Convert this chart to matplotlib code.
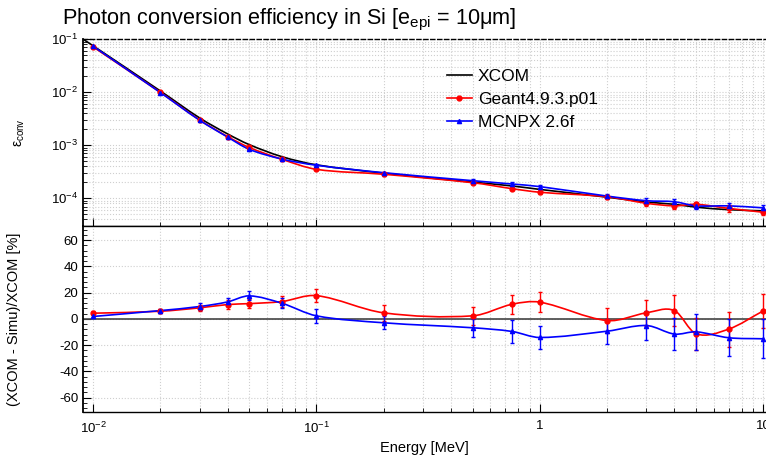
import numpy as np
import matplotlib
matplotlib.use('Agg')
import matplotlib.pyplot as plt
from matplotlib.path import Path
from matplotlib.patches import PathPatch
from matplotlib.lines import Line2D
from matplotlib.ticker import FixedLocator, FixedFormatter, LogLocator, MultipleLocator, NullFormatter

plt.rcParams['font.family'] = ['Liberation Sans', 'DejaVu Sans']
plt.rcParams['mathtext.fontset'] = 'custom'
plt.rcParams['mathtext.rm'] = 'Liberation Sans'
plt.rcParams['mathtext.it'] = 'Liberation Sans:italic'
plt.rcParams['axes.unicode_minus'] = False

# data
energy = [0.01, 0.02, 0.03, 0.04, 0.05, 0.07, 0.1, 0.2, 0.5, 0.75, 1, 2, 3, 4, 5, 7, 10]
xcom_energy = [0.009] + energy
xcom = [0.101, 0.0755, 0.0106, 0.00328, 0.00164, 0.00103, 0.00061, 0.000428, 0.000298,
        0.000202, 0.000171, 0.000147, 0.000105, 8.5e-5, 7.7e-5, 6.8e-5, 6.1e-5, 5.8e-5]
geant = [0.072, 0.0100, 0.0030, 0.00146, 0.00091, 0.000545, 0.000352, 0.000284, 0.000197,
         0.000152, 0.00013, 0.000107, 8.05e-5, 7.2e-5, 7.7e-5, 6.45e-5, 5.45e-5]
mcnp = [0.074, 0.0099, 0.00297, 0.00143, 0.00084, 0.00055, 0.00042, 0.000304, 0.000215,
        0.000186, 0.000166, 0.00011, 9.0e-5, 8.6e-5, 7.2e-5, 7.2e-5, 6.6e-5]
geant_res = [4.3, 5.8, 8.4, 10.9, 11.6, 13.2, 17.7, 4.6, 2.3, 11.1, 12.7, -1.3, 4.6, 6.3, -11.4, -7.8, 6.1]
geant_err = [1.5, 1.5, 2.5, 3.4, 3.5, 4.0, 4.7, 6.0, 7.0, 7.2, 7.8, 9.7, 10.0, 11.5, 12.4, 13.4, 13.0]
mcnp_res = [1.8, 6.3, 9.4, 12.9, 17.5, 11.9, 2.3, -3.0, -6.8, -9.6, -14.2, -9.4, -5.1, -11.6, -9.9, -14.4, -15.2]
mcnp_err = [1.0, 1.5, 2.5, 3.0, 3.5, 4.0, 5.3, 5.0, 7.0, 8.5, 8.7, 9.4, 11.0, 11.9, 13.5, 14.0, 14.8]
xtick_vals = [0.01, 0.1, 1, 10]
xtick_labels = ['$10^{-2}$', '$10^{-1}$', '1', '10']


def smooth_path(x, y, logy=False):
    # cubic bezier through the points (like ROOT's "C" option), built in log-x space
    lx = np.log10(x)
    ly = np.log10(y) if logy else np.asarray(y, float)
    n = len(lx)
    m = np.zeros(n)
    m[0] = (ly[1] - ly[0]) / (lx[1] - lx[0])
    m[-1] = (ly[-1] - ly[-2]) / (lx[-1] - lx[-2])
    for i in range(1, n - 1):
        m[i] = (ly[i + 1] - ly[i - 1]) / (lx[i + 1] - lx[i - 1])
    verts = [(lx[0], ly[0])]
    codes = [Path.MOVETO]
    for i in range(n - 1):
        h = lx[i + 1] - lx[i]
        verts += [(lx[i] + h / 3, ly[i] + m[i] * h / 3),
                  (lx[i + 1] - h / 3, ly[i + 1] - m[i + 1] * h / 3),
                  (lx[i + 1], ly[i + 1])]
        codes += [Path.CURVE4] * 3
    v = np.array(verts)
    v[:, 0] = 10 ** v[:, 0]
    if logy:
        v[:, 1] = 10 ** v[:, 1]
    return Path(v, codes)


def add_curve(ax, x, y, color, logy=False):
    ax.add_patch(PathPatch(smooth_path(x, y, logy), fill=False, edgecolor=color, lw=1.2, zorder=3))


fig = plt.figure(figsize=(7.66, 4.61), dpi=100)
ax1 = fig.add_axes([0.1084, 0.5104, 0.8916, 0.4044])
ax2 = fig.add_axes([0.1084, 0.1063, 0.8916, 0.4041])

grid_kw = dict(color='#cfcfcf', linestyle=':', linewidth=0.8)
for ax in (ax1, ax2):
    ax.set_xscale('log')
    ax.set_xlim(0.00902, 10.28)
    ax.spines['right'].set_visible(False)
    ax.spines['left'].set_linewidth(1.3)
    ax.spines['top'].set_linewidth(1.0)
    ax.spines['bottom'].set_linewidth(1.0)
    ax.xaxis.set_major_locator(FixedLocator(xtick_vals))
    ax.xaxis.set_minor_locator(LogLocator(base=10, subs=np.arange(2, 10)))
    ax.xaxis.set_minor_formatter(NullFormatter())
    ax.tick_params(which='both', direction='in', labelsize=9.5, right=False, top=False)
    ax.tick_params(which='major', length=6)
    ax.tick_params(which='minor', length=3)
    ax.grid(True, which='both', **grid_kw)
    ax.set_axisbelow(True)

# top panel
ax1.set_yscale('log')
ax1.set_ylim(3.04e-5, 0.1)
ax1.spines['top'].set_linestyle((0, (3, 2)))
ax1.yaxis.set_major_locator(FixedLocator([1e-4, 1e-3, 1e-2, 1e-1]))
ax1.yaxis.set_major_formatter(FixedFormatter(['$10^{-4}$', '$10^{-3}$', '$10^{-2}$', '$10^{-1}$']))
ax1.yaxis.set_minor_locator(LogLocator(base=10, subs=np.arange(2, 10)))
ax1.yaxis.set_minor_formatter(NullFormatter())
ax1.tick_params(axis='x', labelbottom=False)

add_curve(ax1, xcom_energy, xcom, 'black', logy=True)
add_curve(ax1, energy, geant, 'red', logy=True)
add_curve(ax1, energy, mcnp, 'blue', logy=True)
ax1.errorbar(energy, geant, yerr=np.array(geant) * np.array(geant_err) / 100, fmt='o', color='red',
             ms=3.5, elinewidth=1, capsize=1.5, zorder=4)
ax1.errorbar(energy, mcnp, yerr=np.array(mcnp) * np.array(mcnp_err) / 100, fmt='^', color='blue',
             ms=3, elinewidth=1, capsize=1.5, zorder=4)
ax1.set_ylabel('ε$_{\\mathregular{conv}}$', fontsize=10, labelpad=17)

handles = [Line2D([], [], color='black', lw=1.2),
           Line2D([], [], color='red', lw=1.2, marker='o', ms=3.5),
           Line2D([], [], color='blue', lw=1.2, marker='^', ms=3)]
ax1.legend(handles, ['XCOM', 'Geant4.9.3.p01', 'MCNPX 2.6f'], loc='upper left',
           bbox_to_anchor=(0.52, 0.89), frameon=False, fontsize=12.5,
           handlelength=1.45, handletextpad=0.35, labelspacing=0.47, borderpad=0)

# bottom panel
ax2.set_ylim(-71, 71)
ax2.yaxis.set_major_locator(MultipleLocator(20))
ax2.yaxis.set_minor_locator(MultipleLocator(4))
ax2.xaxis.set_major_formatter(FixedFormatter(xtick_labels))
ax2.grid(False, which='minor', axis='y')
ax2.axhline(0, color='#444444', lw=1.2, zorder=2)
add_curve(ax2, energy, geant_res, 'red')
add_curve(ax2, energy, mcnp_res, 'blue')
ax2.errorbar(energy, geant_res, yerr=geant_err, fmt='o', color='red', ms=3.5,
             elinewidth=1, capsize=1.5, zorder=4)
ax2.errorbar(energy, mcnp_res, yerr=mcnp_err, fmt='^', color='blue', ms=3,
             elinewidth=1, capsize=1.5, zorder=4)
ax2.tick_params(axis='x', pad=6)
ax2.set_ylabel('(XCOM - Simu)/XCOM [%]', fontsize=10.5, labelpad=27)
ax2.set_xlabel('Energy [MeV]', fontsize=10.5, labelpad=4)

fig.text(0.081, 0.957, 'Photon conversion efficiency in Si [e$_{\\mathregular{epi}}$ = 10μm]',
         fontsize=15.6, va='center', ha='left')

fig.savefig('out.png', dpi=100)
